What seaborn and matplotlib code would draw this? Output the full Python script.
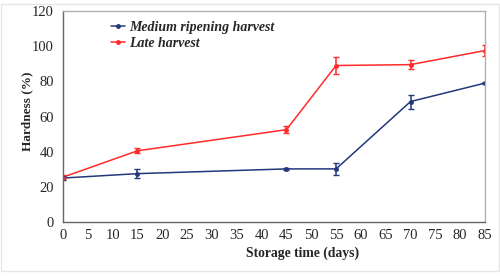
import matplotlib
matplotlib.use("Agg")
import matplotlib.pyplot as plt
import seaborn as sns
import pandas as pd
from matplotlib.patches import Rectangle

days = [0, 15, 45, 55, 70, 85]
medium = [25.0, 27.5, 30.2, 30.2, 68.5, 79.0]
medium_err = [1.0, 2.5, 0.5, 3.5, 4.0, 0.5]
late = [25.5, 40.5, 52.5, 89.0, 89.5, 97.5]
late_err = [1.0, 1.5, 2.0, 5.0, 2.5, 3.0]
series_names = ["Medium ripening harvest", "Late harvest"]
colors = ["#22387a", "#ff2a2a"]

df = pd.DataFrame({
    "days": days * 2,
    "hardness": medium + late,
    "err": medium_err + late_err,
    "series": [series_names[0]] * len(days) + [series_names[1]] * len(days),
})

sns.set_style("white")
plt.rcParams["font.family"] = ["Liberation Serif", "DejaVu Serif"]

fig = plt.figure(figsize=(5, 2.78), dpi=100)
ax = fig.add_axes([63/500, 1 - 222/278, (485-63)/500, (222-11)/278])

sns.lineplot(data=df, x="days", y="hardness", hue="series", palette=colors,
             marker="o", markersize=3.5, markeredgewidth=0, linewidth=1.1,
             ax=ax, legend=True)
for name, c in zip(series_names, colors):
    sub = df[df["series"] == name]
    ax.errorbar(sub["days"], sub["hardness"], yerr=sub["err"], fmt="none",
                ecolor=c, elinewidth=1.1, capsize=2, capthick=1.0)

ax.set_xlim(0, 85)
ax.set_ylim(0, 120)
ax.set_xticks(range(0, 86, 5))
ax.set_yticks(range(0, 121, 20))
ax.tick_params(axis="x", direction="in", length=4, width=0.8, color="#666666",
               labelsize=10.5, pad=5)
ax.tick_params(axis="y", direction="inout", length=7, width=0.8, color="#666666",
               labelsize=10.5, pad=3)
for s in ["left", "bottom"]:
    ax.spines[s].set_color("#666666")
    ax.spines[s].set_linewidth(1.0)
for s in ["top", "right"]:
    ax.spines[s].set_color("#b0b0b0")
    ax.spines[s].set_linewidth(1.0)

ax.set_xlabel("Storage time (days)", fontsize=9.8, fontweight="bold")
ax.set_ylabel("Hardness (%)", fontsize=9.5, fontweight="bold")
ax.xaxis.set_label_coords(0.568, -0.114)
ax.yaxis.set_label_coords(-0.071, 0.524)

leg = ax.legend(loc="upper left", bbox_to_anchor=(0.091, 1.0), frameon=False,
                prop={"family": ["Liberation Serif"], "weight": "bold",
                      "style": "italic", "size": 10},
                handlelength=1.0, handletextpad=0.3, labelspacing=0.25,
                borderaxespad=0.3)

fig.patches.append(Rectangle((0.002, 0.025), 0.996, 0.96, transform=fig.transFigure,
                             fill=False, edgecolor="#e6e6e6", linewidth=1.0))

fig.savefig("out.png", dpi=100)
